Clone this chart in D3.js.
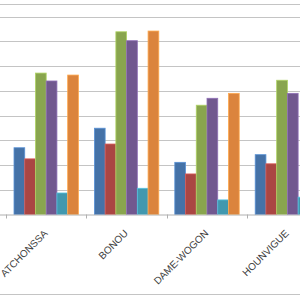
<!DOCTYPE html>
<html>
<head>
<meta charset="utf-8">
<script src="https://cdn.jsdelivr.net/npm/d3@7"></script>
<style>
  body { margin: 0; background: #fff; }
  svg { display: block; }
</style>
</head>
<body>
<div id="chart"></div>
<script>
// categories (the chart is cropped on the right, so later ones fall outside)
var categories = ['ATCHONSSA', 'BONOU', 'DAME-WOGON', 'HOUNVIGUE'];
var seriesNames = ['S1', 'S2', 'S3', 'S4', 'S5', 'S6'];
var colors = ['#4572A7', '#AA4643', '#89A54E', '#71588F', '#4198AF', '#DB843D'];

// one array per series (one gridline = 10)
var s1 = [27.0, 34.9, 21.1, 24.2];
var s2 = [22.5, 28.5, 16.4, 20.5];
var s3 = [57.2, 73.9, 44.2, 54.3];
var s4 = [54.0, 70.3, 47.0, 49.0];
var s5 = [8.7, 10.6, 5.9, 7.0];
var s6 = [56.4, 74.2, 49.0, 50.0];
var series = [s1, s2, s3, s4, s5, s6];

var yTicks = [0, 10, 20, 30, 40, 50, 60, 70, 80];

var width = 300, height = 300;

var svg = d3.select('#chart').append('svg')
    .attr('width', width)
    .attr('height', height);

// x: category bands, ticks sit at band edges
var x = d3.scaleBand()
    .domain(categories)
    .range([6, 6 + 80.4 * categories.length]);

// inner scale for the six bars of a group
var xInner = d3.scaleBand()
    .domain(seriesNames)
    .range([8, x.bandwidth() - 8]);

var y = d3.scaleLinear()
    .domain([0, 80])
    .range([214.5, 16.7]);

// top border line of the plot area
svg.append('line')
    .attr('x1', 0).attr('x2', width)
    .attr('y1', 4.5).attr('y2', 4.5)
    .attr('stroke', '#c4c4c4');

// gridlines
svg.append('g')
    .selectAll('line')
    .data(yTicks.slice(1))
    .enter().append('line')
    .attr('x1', 0).attr('x2', width)
    .attr('y1', function(d) { return Math.round(y(d)) + 0.5; })
    .attr('y2', function(d) { return Math.round(y(d)) + 0.5; })
    .attr('stroke', '#c4c4c4');

// bars
var groups = svg.append('g')
    .selectAll('g')
    .data(series)
    .enter().append('g')
    .attr('fill', function(d, i) { return colors[i]; })
    .attr('stroke', function(d, i) { return d3.color(colors[i]).brighter(0.7); })
    .attr('stroke-width', 0.8);

groups.selectAll('rect')
    .data(function(d, i) {
        return d.map(function(v, j) { return {cat: categories[j], s: seriesNames[i], v: v}; });
    })
    .enter().append('rect')
    .attr('x', function(d) { return x(d.cat) + xInner(d.s); })
    .attr('width', xInner.bandwidth())
    .attr('y', function(d) { return y(d.v); })
    .attr('height', function(d) { return y(0) - y(d.v); });

// x axis line and ticks at band edges
svg.append('line')
    .attr('x1', 0).attr('x2', width)
    .attr('y1', y(0) + 0.5).attr('y2', y(0) + 0.5)
    .attr('stroke', '#b0b0b0');

svg.append('g')
    .selectAll('line')
    .data(categories)
    .enter().append('line')
    .attr('x1', function(d) { return Math.round(x(d)) + 0.5; })
    .attr('x2', function(d) { return Math.round(x(d)) + 0.5; })
    .attr('y1', y(0)).attr('y2', y(0) + 4)
    .attr('stroke', '#b0b0b0');

// rotated category labels
svg.append('g')
    .selectAll('text')
    .data(categories)
    .enter().append('text')
    .attr('transform', function(d) {
        return 'translate(' + (x(d) + x.bandwidth() / 2 + 2) + ',' + 234 + ') rotate(-45)';
    })
    .attr('text-anchor', 'end')
    .attr('font-family', 'Liberation Sans, Arial, sans-serif')
    .attr('font-size', 10)
    .attr('fill', '#404040')
    .text(function(d) { return d; });

// bottom border of the chart
svg.append('line')
    .attr('x1', 0).attr('x2', width)
    .attr('y1', 294.5).attr('y2', 294.5)
    .attr('stroke', '#c4c4c4');
</script>
</body>
</html>
